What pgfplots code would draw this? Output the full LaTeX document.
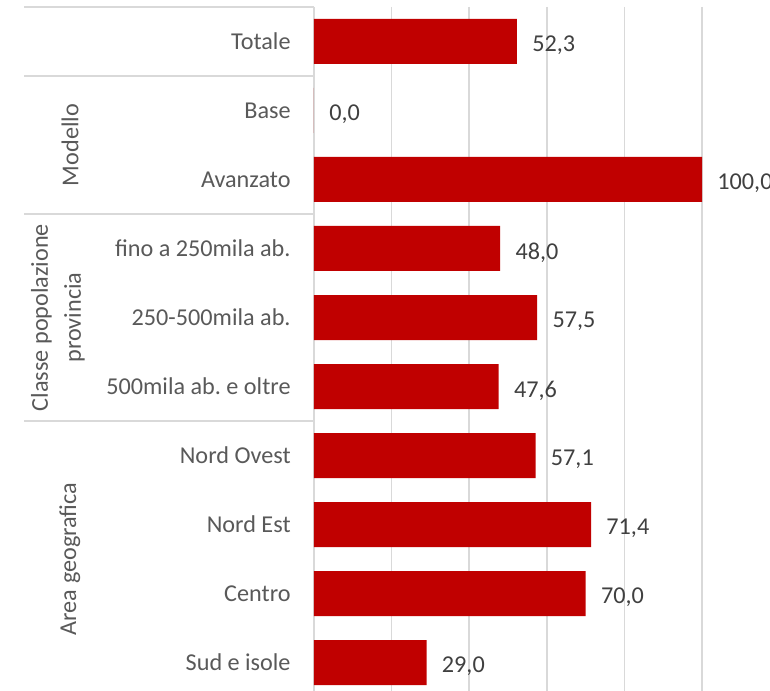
\documentclass[border=0pt]{standalone}
\usepackage{pgfplots}
\pgfplotsset{compat=1.18}
\usepackage{fontspec}
\setmainfont{Carlito}
\definecolor{barred}{HTML}{C00000}
\definecolor{gridgray}{HTML}{D9D9D9}
\definecolor{labgray}{HTML}{595959}
\definecolor{valgray}{HTML}{404040}
\begin{document}
\frenchspacing
\begin{tikzpicture}[font=\fontsize{12.1}{16.5}\selectfont]
\useasboundingbox (-157pt,3.5pt) rectangle (228pt,348.5pt);
\begin{axis}[
  at={(0pt,0pt)}, anchor=south west, scale only axis,
  width=194pt, height=345pt,
  xbar, bar width=22.5pt,
  xmin=0, xmax=100, ymin=-0.5, ymax=9.5, y dir=reverse,
  xtick={0,20,...,100}, xticklabel=\empty,
  xmajorgrids, grid style={gridgray, line width=0.75pt},
  ytick={0,...,9},
  yticklabels={Totale,Base,Avanzato,fino a 250mila ab.,250-500mila ab.,500mila ab. e oltre,Nord Ovest\hspace{2.5pt},Nord Est,Centro,Sud e isole},
  major tick length=0pt,
  axis line style={draw=none},
  yticklabel style={font=\fontsize{12.1}{15}\selectfont, text=labgray, inner xsep=0pt, xshift=-11.5pt},
  clip=false,
  nodes near coords={\pgfmathprintnumber[fixed,fixed zerofill,precision=1,use comma,assume math mode=true]{\pgfplotspointmeta}},
  every node near coord/.append style={font=\fontsize{12.1}{15}\selectfont, text=valgray, anchor=west, inner xsep=0pt, xshift=7.5pt, yshift=-2pt},
]
\addplot[fill=barred, draw=none] coordinates {
  (52.3,0) (0,1) (100,2) (48.0,3) (57.5,4) (47.6,5) (57.1,6) (71.4,7) (70.0,8) (29.0,9)};
\draw[gridgray, line width=0.75pt] (axis cs:-74.7,-0.5) -- (axis cs:0,-0.5);
\draw[gridgray, line width=0.75pt] (axis cs:-74.7,0.5) -- (axis cs:0,0.5);
\draw[gridgray, line width=0.75pt] (axis cs:-74.7,2.5) -- (axis cs:0,2.5);
\draw[gridgray, line width=0.75pt] (axis cs:-74.7,5.5) -- (axis cs:0,5.5);
\node[rotate=90, text=labgray] at (axis cs:-62.9,1.5) {Modello};
\node[rotate=90, align=center, text=labgray] at (axis cs:-66,4) {Classe popolazione\\provincia};
\node[rotate=90, text=labgray] at (axis cs:-62.9,7.5) {Area geografica};
\end{axis}
\end{tikzpicture}
\end{document}
